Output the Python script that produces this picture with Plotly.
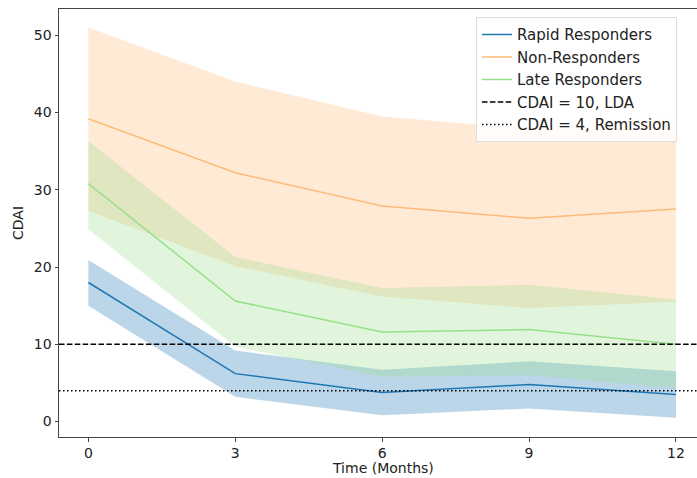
import plotly.graph_objects as go

months = [0, 3, 6, 9, 12]

rapid_mean = [18.0, 6.2, 3.75, 4.8, 3.5]
rapid_upper = [20.9, 9.2, 6.7, 7.8, 6.5]
rapid_lower = [15.0, 3.2, 0.8, 1.7, 0.5]

non_mean = [39.2, 32.2, 27.9, 26.3, 27.5]
non_upper = [51.0, 44.0, 39.5, 37.9, 39.3]
non_lower = [27.3, 20.1, 16.2, 14.7, 15.5]

late_mean = [30.8, 15.6, 11.6, 11.9, 10.0]
late_upper = [36.3, 21.3, 17.3, 17.7, 15.8]
late_lower = [24.9, 9.7, 5.8, 6.0, 4.3]

lda_level = 10
remission_level = 4

x_range = [-0.6, 12.43]
y_range = [-2.0, 53.4]

series = [
    ("Rapid Responders", rapid_mean, rapid_upper, rapid_lower, "#1f77b4", "rgba(31,119,180,0.3)"),
    ("Non-Responders", non_mean, non_upper, non_lower, "#ffbb78", "rgba(255,187,120,0.3)"),
    ("Late Responders", late_mean, late_upper, late_lower, "#98df8a", "rgba(152,223,138,0.3)"),
]

fig = go.Figure()
for name, m, up, lo, col, fillcol in series:
    fig.add_trace(go.Scatter(
        x=months + months[::-1], y=up + lo[::-1], fill="toself",
        fillcolor=fillcol, line=dict(width=0), mode="lines",
        hoverinfo="skip", showlegend=False))
    fig.add_trace(go.Scatter(
        x=months, y=m, mode="lines", name=name,
        line=dict(color=col, width=1.5)))

fig.add_trace(go.Scatter(
    x=x_range, y=[lda_level, lda_level], mode="lines", name="CDAI = 10, LDA",
    line=dict(color="black", width=1.5, dash="5.5px,2.4px")))
fig.add_trace(go.Scatter(
    x=x_range, y=[remission_level, remission_level], mode="lines", name="CDAI = 4, Remission",
    line=dict(color="black", width=1.5, dash="1.5px,2.5px")))

font_family = "DejaVu Sans"
fig.update_layout(
    width=697, height=478,
    margin=dict(l=59, r=0, t=9, b=41, autoexpand=False),
    plot_bgcolor="white", paper_bgcolor="white",
    font=dict(family=font_family, size=14, color="#222"),
    showlegend=True,
    legend=dict(
        x=(476 - 59) / 638, y=0.981, xanchor="left", yanchor="top",
        bgcolor="rgba(255,255,255,0.85)", bordercolor="#dddddd", borderwidth=1,
        font=dict(family=font_family, size=15, color="#222"),
        tracegroupgap=0, itemwidth=30,
    ),
    xaxis=dict(
        range=x_range, tickvals=months, ticktext=[str(v) for v in months],
        showgrid=False, zeroline=False, showline=True, linecolor="#444", linewidth=1,
        mirror=True, ticks="outside", ticklen=3.5, tickcolor="#444",
        automargin=False, tickfont=dict(size=14),
    ),
    yaxis=dict(
        range=y_range, tickvals=[0, 10, 20, 30, 40, 50],
        showgrid=False, zeroline=False, showline=True, linecolor="#444", linewidth=1,
        ticks="outside", ticklen=3.5, tickcolor="#444",
        automargin=False, tickfont=dict(size=14),
    ),
    annotations=[
        dict(text="Time (Months)", xref="paper", yref="paper", x=(383 - 59) / 638, y=0,
             yshift=-31, yanchor="middle", xanchor="center", showarrow=False,
             font=dict(size=14)),
        dict(text="CDAI", xref="paper", yref="paper", x=0, y=0.5, xshift=-41,
             textangle=-90, xanchor="center", yanchor="middle", showarrow=False,
             font=dict(size=14)),
    ],
)

fig.write_html("out.html", config={"displayModeBar": False},
               post_script="document.body.style.margin='0';document.body.style.padding='0';")
